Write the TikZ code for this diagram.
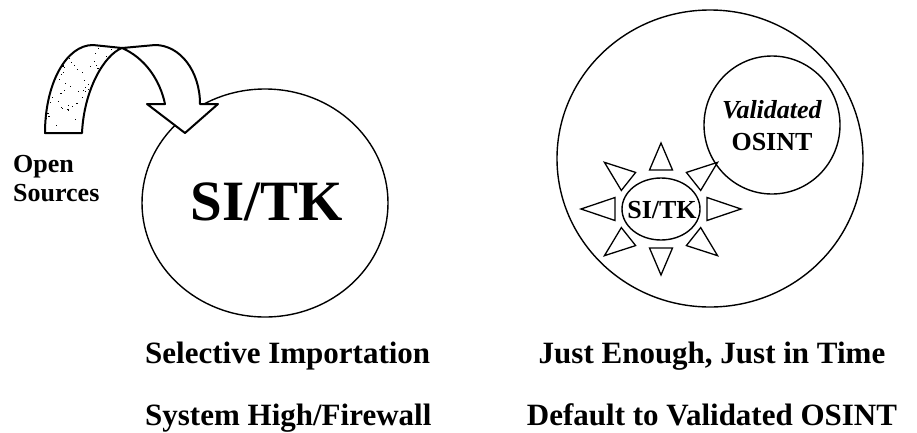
\documentclass[tikz,border=0pt]{standalone}
\usepackage{fontspec}
\setmainfont{Liberation Serif}
\usetikzlibrary{calc,shapes.geometric}
\begin{document}
\begin{tikzpicture}[x=1pt,y=-1pt,
  circ/.style={draw, ellipse, line width=1.4pt, inner sep=0pt},
  tri/.style={draw, line width=1.3pt, line join=miter},
  arr/.style={draw, line width=2pt, line join=round},
  lbl/.style={font=\bfseries\fontsize{31}{31}\selectfont, anchor=base west, inner sep=0pt},
  small/.style={font=\bfseries\fontsize{26}{32}\selectfont, inner sep=0pt}]
\useasboundingbox (0,0) rectangle (917,432);
\fill[white] (0,0) rectangle (917,432);

% ---------- left circle ----------
\node[circ, minimum width=246pt, minimum height=228pt] (sitk) at (265,203) {};
\node[inner sep=0pt, anchor=base, font=\bfseries\fontsize{57}{57}\selectfont]
      (sitktxt) at (267,220) {SI/TK};

% ---------- curved arrow ----------
\begin{scope}
  \clip (45,133) .. controls (45,84) and (66,45) .. (93,45) -- (122,48)
        .. controls (104,55) and (84,90) .. (82,133) -- cycle;
  \pgfmathsetseed{11}
  \foreach \i in {1,...,90}{
    \fill ({45+77*rnd},{45+88*rnd}) rectangle ++(1.1,0.9);
  }
\end{scope}
\path[arr] (45,133) .. controls (45,84) and (66,45) .. (93,45) -- (122,48)
      .. controls (104,55) and (84,90) .. (82,133) -- cycle;
\path[arr, fill=white] (122,48) -- (155,45) .. controls (180,45) and (200,71) .. (200,104)
      -- (218,104) -- (185,133) -- (147,104) -- (165,104)
      .. controls (160,80) and (145,58) .. (122,48);

\node[small, anchor=base west] (open) at (13,172) {Open};
\node[small, anchor=base west] (sources) at (13,201) {Sources};

% ---------- right ----------
\node[circ, minimum width=306pt, minimum height=297pt] (outer) at (710,158.5) {};
\node[circ, minimum width=136pt, minimum height=138pt] (val) at (772,125) {};
\node[small, anchor=base] (valtxt) at (772,118) {\textit{Validated}};
\node[small, anchor=base] (osint) at (772,150) {OSINT};

\node[circ, minimum width=78pt, minimum height=62pt] (sun) at (661,209) {};
\node[small, anchor=base] (suntxt) at (662,218) {SI/TK};
\foreach \a in {0,45,...,315}{
  \coordinate (b\a) at ($(sun.center)+(\a:46 and 39)$);
  \coordinate (t\a) at ($(sun.center)+(\a:80 and 66)$);
  \draw[tri] ($(b\a)!11.5pt!90:(t\a)$) -- (t\a) -- ($(b\a)!11.5pt!-90:(t\a)$) -- cycle;
}

% ---------- captions ----------
\node[lbl] (c1) at (145,363) {Selective Importation};
\node[lbl] (c2) at (145,425) {System High/Firewall};
\node[lbl, anchor=base] (c3) at (712,363) {Just Enough, Just in Time};
\node[lbl, anchor=base] (c4) at (712,425) {Default to Validated OSINT};
\end{tikzpicture}
\end{document}
